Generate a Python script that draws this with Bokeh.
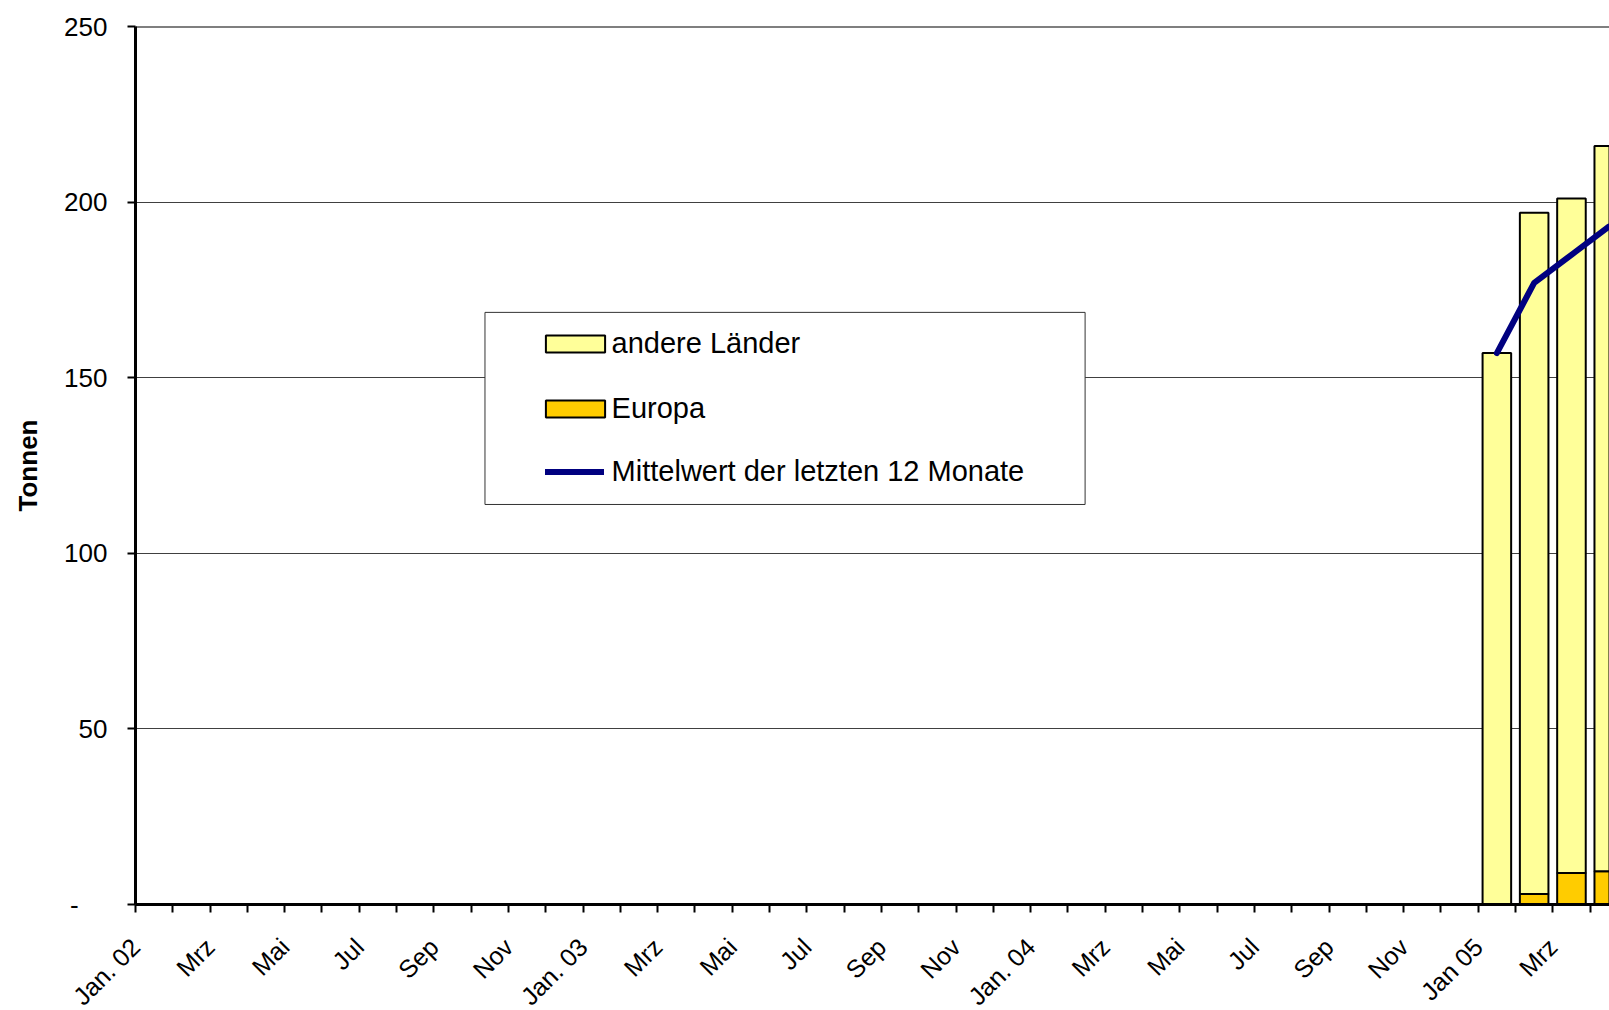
from math import pi
from bokeh.plotting import figure
from bokeh.models import (Range1d, FixedTicker, ColumnDataSource, Legend, LegendItem,
                          BoxAnnotation, Span)
from bokeh.embed import file_html
from bokeh.resources import INLINE

# ---- data -------------------------------------------------------------
month_names = ["Jan", "Feb", "Mrz", "Apr", "Mai", "Jun",
               "Jul", "Aug", "Sep", "Okt", "Nov", "Dez"]
months = [f"{m} {y}" for y in ("02", "03", "04") for m in month_names] + \
         ["Jan 05", "Feb 05", "Mrz 05", "Apr 05"]

tick_labels = ["Jan. 02", "Mrz", "Mai", "Jul", "Sep", "Nov",
               "Jan. 03", "Mrz", "Mai", "Jul", "Sep", "Nov",
               "Jan. 04", "Mrz", "Mai", "Jul", "Sep", "Nov",
               "Jan 05", "Mrz"]

data_months = ["Jan 05", "Feb 05", "Mrz 05", "Apr 05"]
europa = [0, 3, 9, 9.5]
andere_laender = [157, 194, 192, 206.5]
mittelwert = [157, 177, 185, 193]

y_ticks = [0, 50, 100, 150, 200, 250]

# ---- figure -------------------------------------------------------------
FONT = "Liberation Sans"

p = figure(frame_width=1474, frame_height=878,
           x_range=Range1d(0, 39.52), y_range=Range1d(0, 250),
           output_backend="svg", toolbar_location=None,
           min_border_left=135, min_border_right=0,
           min_border_top=26, min_border_bottom=106)
p.outline_line_color = None
p.background_fill_color = "white"
p.border_fill_color = "white"

xpos = [months.index(m) + 0.5 for m in data_months]
src = ColumnDataSource(dict(x=xpos, europa=europa, andere=andere_laender,
                            mittel=mittelwert))

bars = p.vbar_stack(["europa", "andere"], x="x", width=0.766, source=src,
                    fill_color=["#FFCC00", "#FFFF99"], line_color="black",
                    line_width=2)
line = p.line("x", "mittel", source=src, line_color="#000080", line_width=6,
              line_join="round", line_cap="round")

# ---- axes ---------------------------------------------------------------
# labels of every second month; the rotated label ends at its category slot
label_pos = [i for i in range(0, len(months), 2)]
xax = p.xaxis[0]
xax.ticker = FixedTicker(ticks=label_pos, minor_ticks=list(range(0, len(months) + 1)))
xax.major_label_overrides = {t: lab for t, lab in zip(label_pos, tick_labels)}
xax.major_label_orientation = pi / 4
xax.major_tick_out = 0
xax.major_tick_in = 0
xax.minor_tick_out = 8
xax.minor_tick_in = 0
xax.minor_tick_line_width = 2
xax.minor_tick_line_color = "black"
xax.axis_line_width = 3
xax.axis_line_color = "black"
xax.major_label_text_font = FONT
xax.major_label_text_font_size = "25px"
xax.major_label_text_color = "black"
xax.major_label_standoff = 30

yax = p.yaxis[0]
yax.ticker = FixedTicker(ticks=y_ticks, minor_ticks=[])
yax.major_label_overrides = {0: "-\u00a0\u00a0\u00a0\u00a0"}
yax.major_tick_out = 8
yax.major_tick_in = 0
yax.major_tick_line_width = 2
yax.minor_tick_out = 0
yax.minor_tick_in = 0
yax.axis_line_width = 3
yax.axis_line_color = "black"
yax.major_label_text_font = FONT
yax.major_label_text_font_size = "26px"
yax.major_label_text_color = "black"
yax.major_label_standoff = 20
yax.axis_label = "Tonnen"
yax.axis_label_text_font = FONT
yax.axis_label_text_font_style = "bold"
yax.axis_label_text_font_size = "26px"
yax.axis_label_text_color = "black"
yax.axis_label_standoff = 18

p.xgrid.visible = False
p.ygrid.ticker = FixedTicker(ticks=y_ticks)
p.ygrid.grid_line_color = "#404040"
p.ygrid.grid_line_width = 1

p.add_layout(Span(location=250, dimension="width", line_color="black",
                  line_width=2))

# ---- legend -------------------------------------------------------------
box = BoxAnnotation(left=9.37, right=25.46, bottom=113.9, top=168.6,
                    fill_color="white", fill_alpha=1.0,
                    line_color="#333333", line_width=1, line_alpha=1.0)
p.add_layout(box)

common = dict(border_line_color=None, background_fill_alpha=0.0, padding=0,
              margin=0, spacing=32, label_height=32, label_text_font=FONT,
              label_text_font_size="29px", label_text_color="black")

legend_bars = Legend(items=[LegendItem(label="andere Länder", renderers=[bars[1]]),
                            LegendItem(label="Europa", renderers=[bars[0]])],
                     location=(402.6, 479), glyph_width=74, glyph_height=21,
                     label_standoff=0, **common)
legend_line = Legend(items=[LegendItem(label="Mittelwert der letzten 12 Monate",
                                       renderers=[line])],
                     location=(409.6, 416), glyph_width=59, glyph_height=17,
                     label_standoff=8, **common)
p.add_layout(legend_bars)
p.add_layout(legend_line)

open("out.html", "w").write(file_html(p, INLINE))
